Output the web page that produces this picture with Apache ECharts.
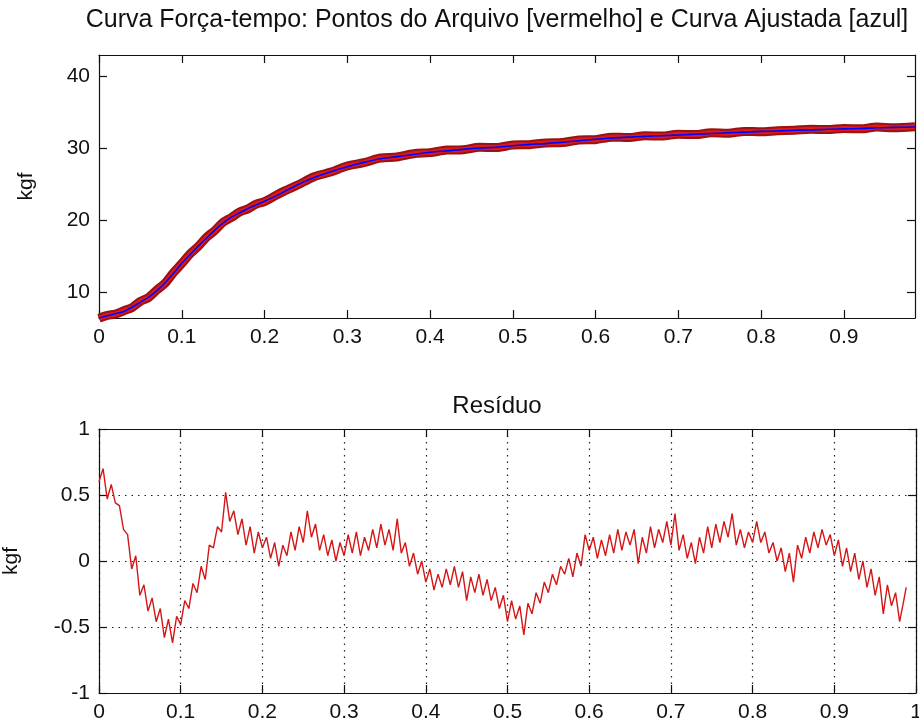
<!DOCTYPE html>
<html>
<head>
<meta charset="utf-8">
<script src="https://cdn.jsdelivr.net/npm/echarts@6/dist/echarts.min.js"></script>
<style>html,body{margin:0;padding:0;background:#fff}#c{width:919px;height:725px}</style>
</head>
<body>
<div id="c"></div>
<script>
// ---- data ----
const titleTop = 'Curva Força-tempo: Pontos do Arquivo [vermelho] e Curva Ajustada [azul]';
const titleBottom = 'Resíduo';
const yName = 'kgf';

const forceTimes = [0,0.01,0.02,0.03,0.04,0.05,0.06,0.07,0.08,0.09,0.10,0.11,0.12,0.13,0.14,0.15,0.16,0.17,0.18,0.19,0.20,
  0.22,0.24,0.26,0.28,0.30,0.32,0.34,0.36,0.38,0.40,0.42,0.44,0.46,0.48,0.50,0.52,0.54,0.56,0.58,0.60,0.62,0.64,0.66,0.68,
  0.70,0.72,0.74,0.76,0.78,0.80,0.82,0.84,0.86,0.88,0.90,0.92,0.94,0.96,0.986];
const forceMeasured = [6.35,6.75,6.95,7.4,7.85,8.7,9.25,10.3,11.25,12.7,13.95,15.3,16.35,17.6,18.55,19.7,20.35,21.1,21.55,22.2,22.55,
  23.8,24.85,26.0,26.65,27.5,27.95,28.6,28.75,29.2,29.35,29.7,29.75,30.1,30.05,30.4,30.45,30.7,30.75,31.1,31.15,31.5,31.45,31.7,31.65,
  31.9,31.85,32.1,32.05,32.3,32.25,32.4,32.45,32.6,32.55,32.7,32.65,32.9,32.8,32.95];
const forceFit = [6.4,6.7,7.0,7.3,7.9,8.6,9.3,10.2,11.3,12.6,14.0,15.2,16.4,17.5,18.6,19.6,20.4,21.0,21.6,22.1,22.6,
  23.7,24.9,25.9,26.7,27.4,28.0,28.5,28.8,29.1,29.4,29.6,29.8,30.0,30.1,30.3,30.5,30.6,30.8,31.0,31.2,31.4,31.5,31.6,31.7,
  31.8,31.9,32.0,32.1,32.2,32.3,32.35,32.45,32.5,32.6,32.65,32.7,32.8,32.85,32.9];

const topXTicks = [0,0.1,0.2,0.3,0.4,0.5,0.6,0.7,0.8,0.9];
const topYTicks = [10,20,30,40];

const residual = [
 [0.000,0.60],[0.005,0.70],[0.010,0.47],[0.015,0.58],[0.020,0.44],[0.025,0.42],[0.030,0.24],[0.035,0.20],[0.040,-0.06],[0.045,0.04],
 [0.050,-0.26],[0.055,-0.18],[0.060,-0.38],[0.065,-0.28],[0.070,-0.46],[0.075,-0.36],[0.080,-0.58],[0.085,-0.44],[0.090,-0.62],[0.095,-0.42],
 [0.100,-0.48],[0.105,-0.30],[0.110,-0.36],[0.115,-0.17],[0.120,-0.24],[0.125,-0.04],[0.130,-0.14],[0.135,0.12],[0.140,0.10],[0.145,0.26],
 [0.150,0.22],[0.155,0.52],[0.160,0.30],[0.165,0.38],[0.170,0.20],[0.175,0.32],[0.180,0.12],[0.185,0.26],[0.190,0.06],[0.195,0.22],
 [0.200,0.10],[0.205,0.18],[0.210,0.02],[0.215,0.14],[0.220,-0.04],[0.225,0.12],[0.230,0.04],[0.235,0.22],[0.240,0.08],[0.245,0.26],
 [0.250,0.14],[0.255,0.38],[0.260,0.18],[0.265,0.28],[0.270,0.08],[0.275,0.20],[0.280,0.04],[0.285,0.16],[0.290,0.00],[0.295,0.14],
 [0.300,0.04],[0.305,0.20],[0.310,0.06],[0.315,0.22],[0.320,0.04],[0.325,0.18],[0.330,0.08],[0.335,0.24],[0.340,0.10],[0.345,0.28],
 [0.350,0.12],[0.355,0.24],[0.360,0.08],[0.365,0.32],[0.370,0.06],[0.375,0.14],[0.380,-0.04],[0.385,0.06],[0.390,-0.10],[0.395,0.00],
 [0.400,-0.16],[0.405,-0.06],[0.410,-0.22],[0.415,-0.10],[0.420,-0.20],[0.425,-0.06],[0.430,-0.18],[0.435,-0.04],[0.440,-0.20],[0.445,-0.08],
 [0.450,-0.30],[0.455,-0.12],[0.460,-0.24],[0.465,-0.10],[0.470,-0.26],[0.475,-0.14],[0.480,-0.30],[0.485,-0.20],[0.490,-0.36],[0.495,-0.26],
 [0.500,-0.46],[0.505,-0.30],[0.510,-0.44],[0.515,-0.34],[0.520,-0.56],[0.525,-0.32],[0.530,-0.40],[0.535,-0.24],[0.540,-0.32],[0.545,-0.16],
 [0.550,-0.24],[0.555,-0.10],[0.560,-0.18],[0.565,-0.04],[0.570,-0.10],[0.575,0.02],[0.580,-0.12],[0.585,0.06],[0.590,-0.04],[0.595,0.20],
 [0.600,0.08],[0.605,0.18],[0.610,0.02],[0.615,0.16],[0.620,0.04],[0.625,0.20],[0.630,0.06],[0.635,0.24],[0.640,0.08],[0.645,0.22],
 [0.650,0.12],[0.655,0.24],[0.660,-0.02],[0.665,0.18],[0.670,0.06],[0.675,0.26],[0.680,0.10],[0.685,0.24],[0.690,0.14],[0.695,0.30],
 [0.700,0.12],[0.705,0.36],[0.710,0.08],[0.715,0.20],[0.720,0.02],[0.725,0.14],[0.730,-0.02],[0.735,0.18],[0.740,0.06],[0.745,0.26],
 [0.750,0.10],[0.755,0.28],[0.760,0.14],[0.765,0.30],[0.770,0.18],[0.775,0.36],[0.780,0.12],[0.785,0.24],[0.790,0.10],[0.795,0.22],
 [0.800,0.14],[0.805,0.30],[0.810,0.14],[0.815,0.22],[0.820,0.06],[0.825,0.14],[0.830,0.00],[0.835,0.10],[0.840,-0.08],[0.845,0.06],
 [0.850,-0.16],[0.855,0.12],[0.860,0.02],[0.865,0.18],[0.870,0.06],[0.875,0.22],[0.880,0.10],[0.885,0.24],[0.890,0.12],[0.895,0.20],
 [0.900,0.04],[0.905,0.16],[0.910,-0.04],[0.915,0.10],[0.920,-0.08],[0.925,0.06],[0.930,-0.14],[0.935,0.00],[0.940,-0.20],[0.945,-0.06],
 [0.950,-0.26],[0.955,-0.12],[0.960,-0.40],[0.965,-0.18],[0.970,-0.34],[0.975,-0.24],[0.980,-0.46],[0.985,-0.30],[0.988,-0.20]
];

// ---- chart ----
const FONT = '"Liberation Sans", Arial, sans-serif';
const labelStyle = {color:'#111', fontSize:21, fontFamily:FONT};
const axisLine = {show:true, onZero:false, lineStyle:{color:'#111', width:1.2}};
const tick = {show:true, inside:true, length:8, lineStyle:{color:'#111', width:1.2}};
const dotted = {show:true, lineStyle:{color:'#222', width:1.2, type:[1.5,5]}};

function fmt(v){ return String(Math.round(v*10)/10); }

const forceMeasuredPts = forceTimes.map((t,i)=>[t, forceMeasured[i]]);
const forceFitPts = forceTimes.map((t,i)=>[t, forceFit[i]]);

const chart = echarts.init(document.getElementById('c'), null, {renderer:'canvas'});
chart.setOption({
  animation:false,
  backgroundColor:'#fff',
  grid:[
    {left:99, top:55, width:816, height:263, containLabel:false, outerBoundsMode:'none'},
    {left:99, top:429, width:817, height:264, containLabel:false, outerBoundsMode:'none'}
  ],
  graphic:[
    {type:'text', x:497, y:20, style:{text:titleTop, fill:'#111', font:'25px '+FONT, textAlign:'center', textVerticalAlign:'middle'}},
    {type:'text', x:497, y:406, style:{text:titleBottom, fill:'#111', font:'24px '+FONT, textAlign:'center', textVerticalAlign:'middle'}}
  ],
  xAxis:[
    {gridIndex:0, type:'value', min:0, max:0.986, position:'bottom',
     axisLine, axisTick:Object.assign({}, tick, {customValues:topXTicks}),
     axisLabel:Object.assign({}, labelStyle, {margin:9, customValues:topXTicks, formatter:fmt}),
     splitLine:{show:false}},
    {gridIndex:0, type:'value', min:0, max:0.986, position:'top',
     axisLine, axisTick:Object.assign({}, tick, {customValues:topXTicks}),
     axisLabel:{show:false}, splitLine:{show:false}},
    {gridIndex:1, type:'value', min:0, max:1, interval:0.1, position:'bottom',
     axisLine, axisTick:tick,
     axisLabel:Object.assign({}, labelStyle, {margin:9, formatter:fmt}),
     splitLine:dotted},
    {gridIndex:1, type:'value', min:0, max:1, interval:0.1, position:'top',
     axisLine, axisTick:tick, axisLabel:{show:false}, splitLine:{show:false}}
  ],
  yAxis:[
    {gridIndex:0, type:'value', min:6.4, max:42.9, position:'left',
     name:yName, nameLocation:'middle', nameGap:62, nameRotate:90,
     nameTextStyle:{color:'#111', fontSize:21, fontFamily:FONT},
     axisLine, axisTick:Object.assign({}, tick, {customValues:topYTicks}),
     axisLabel:Object.assign({}, labelStyle, {margin:9, customValues:topYTicks}),
     splitLine:{show:false}},
    {gridIndex:0, type:'value', min:6.4, max:42.9, position:'right',
     axisLine, axisTick:Object.assign({}, tick, {customValues:topYTicks}),
     axisLabel:{show:false}, splitLine:{show:false}},
    {gridIndex:1, type:'value', min:-1, max:1, interval:0.5, position:'left',
     name:yName, nameLocation:'middle', nameGap:77, nameRotate:90,
     nameTextStyle:{color:'#111', fontSize:21, fontFamily:FONT},
     axisLine, axisTick:tick,
     axisLabel:Object.assign({}, labelStyle, {margin:9}),
     splitLine:dotted},
    {gridIndex:1, type:'value', min:-1, max:1, interval:0.5, position:'right',
     axisLine, axisTick:tick, axisLabel:{show:false}, splitLine:{show:false}}
  ],
  series:[
    {name:'Pontos do Arquivo', type:'line', xAxisIndex:0, yAxisIndex:0, data:forceMeasuredPts,
     showSymbol:false, smooth:0.3, lineStyle:{color:'#9a1212', width:9}, z:2},
    {name:'Pontos do Arquivo (centro)', type:'line', xAxisIndex:0, yAxisIndex:0, data:forceMeasuredPts,
     showSymbol:false, smooth:0.3, lineStyle:{color:'#dd1a1a', width:5}, z:3},
    {name:'Curva Ajustada', type:'line', xAxisIndex:0, yAxisIndex:0, data:forceFitPts,
     showSymbol:false, smooth:0.3, lineStyle:{color:'#0000ff', width:1.6}, z:4},
    {name:'Resíduo', type:'line', xAxisIndex:2, yAxisIndex:2, data:residual,
     showSymbol:false, lineStyle:{color:'#d41616', width:1.4}, z:3}
  ]
});
</script>
</body>
</html>
